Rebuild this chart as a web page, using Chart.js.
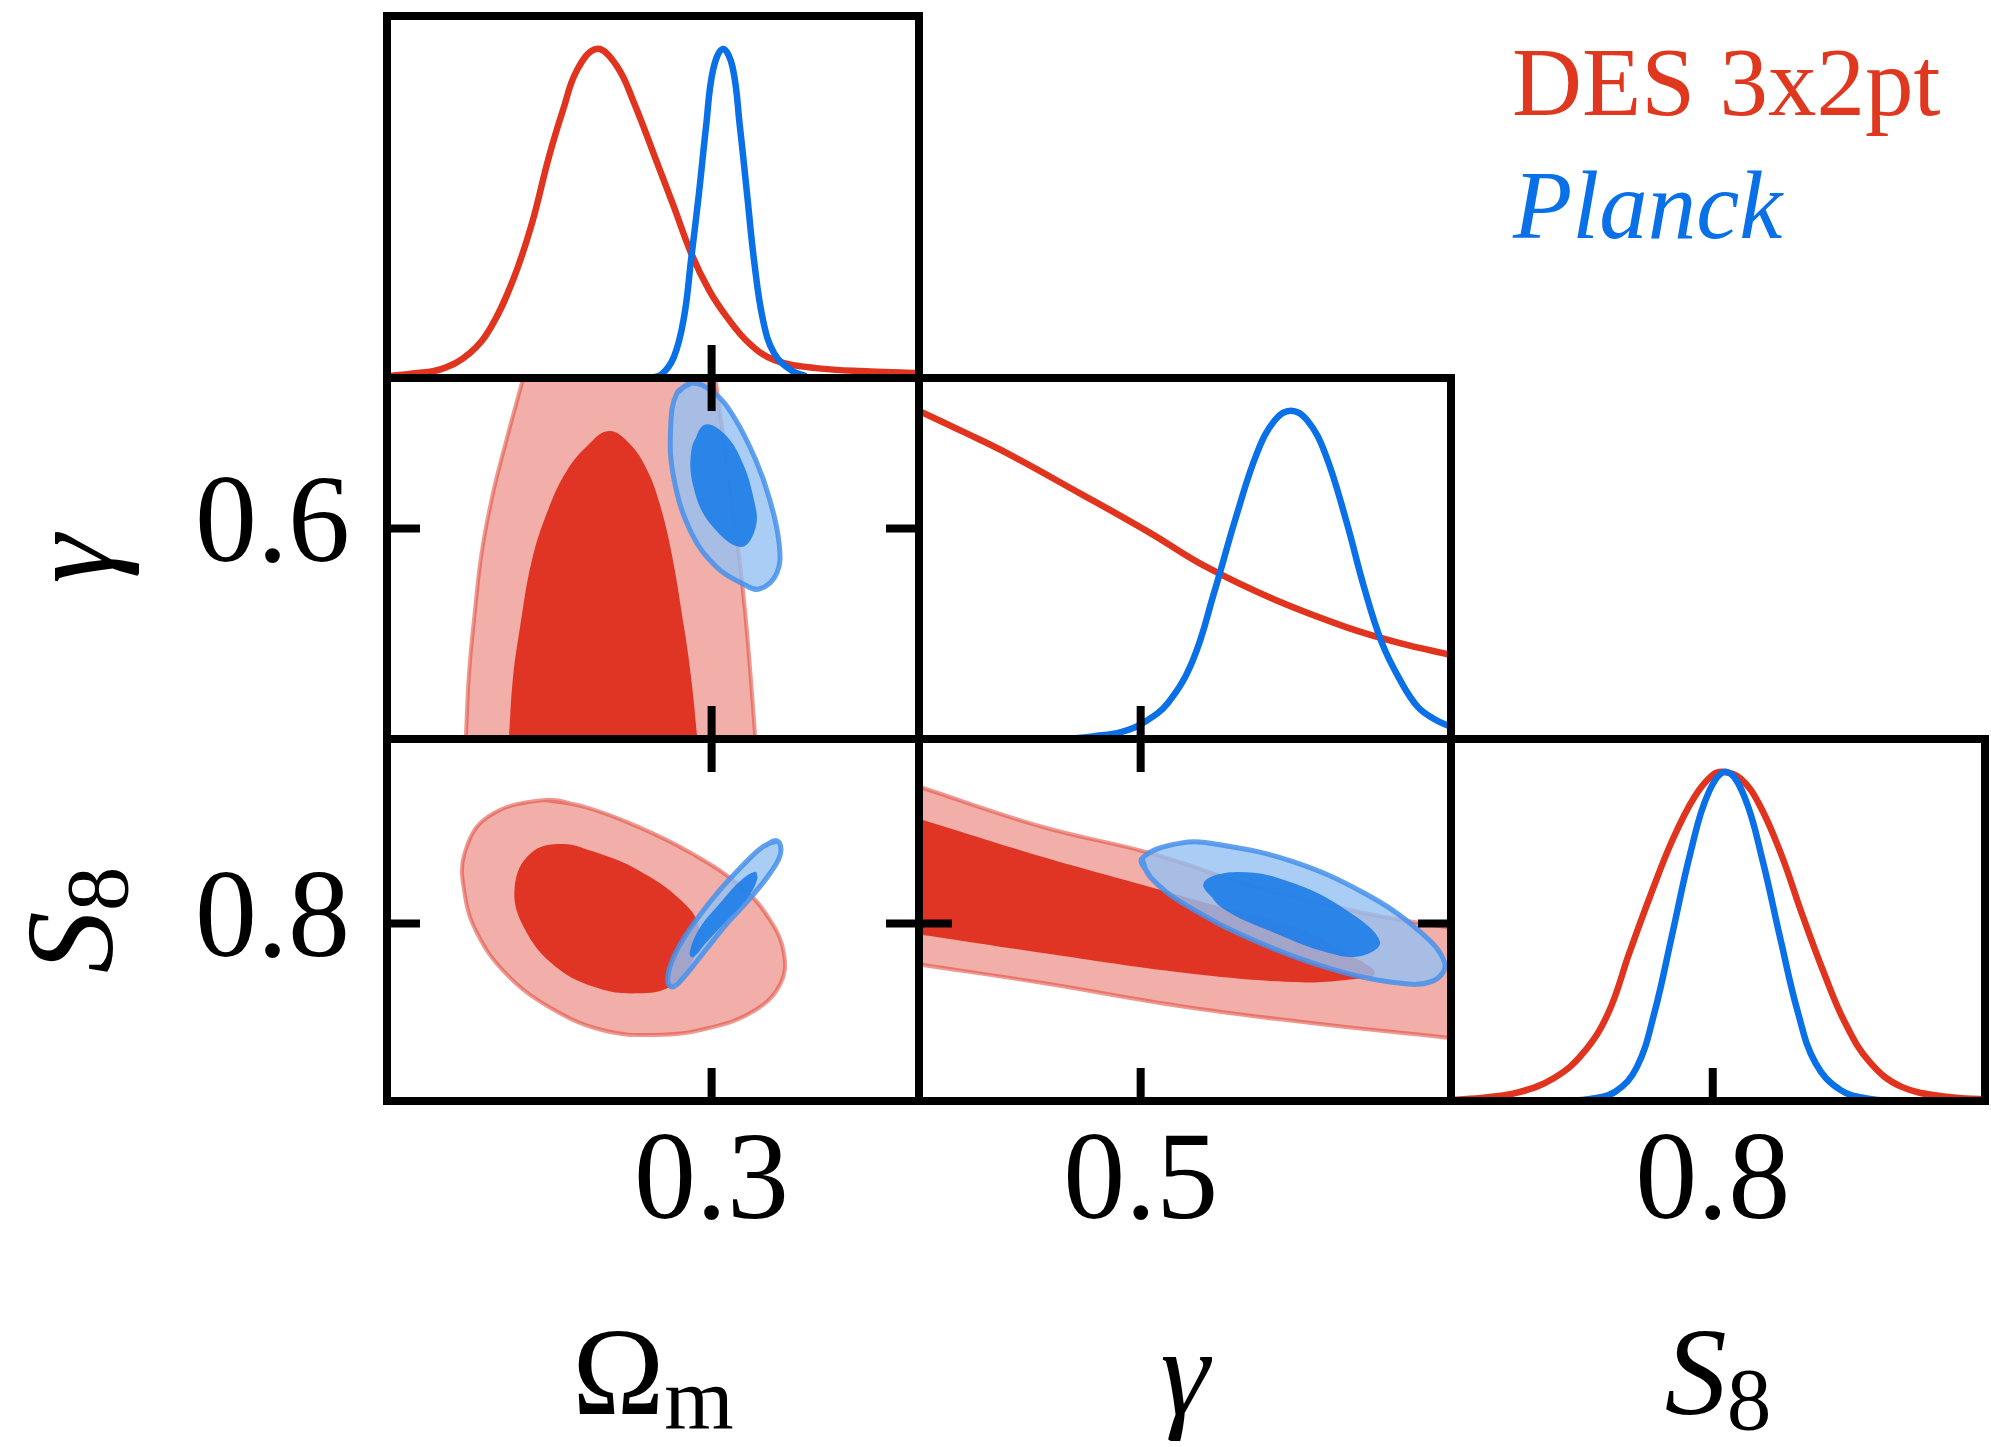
<!DOCTYPE html>
<html>
<head>
<meta charset="utf-8">
<title>Ωm, γ, S8</title>
<script src="https://cdn.jsdelivr.net/npm/chart.js@4.4.1/dist/chart.umd.min.js"></script>
<style>
  html, body { margin: 0; padding: 0; background: #fff; overflow: hidden; }
  body { width: 1991px; height: 1447px; position: relative; font-family: 'Liberation Serif', serif; }
  canvas { position: absolute; }
  .label { position: absolute; line-height: 1; white-space: nowrap; font-size: 124px; color: #000; text-align: center; }
  .it { font-style: italic; }
  .sub { font-size: 0.72em; font-style: normal; position: relative; top: 0.17em; }
  .rot { transform: rotate(-90deg); height: 124px; }
  .legend { position: absolute; line-height: 1; font-size: 97px; white-space: nowrap; }
</style>
</head>
<body>
<div class="label" style="left:387px; top:1311px; width:532px">Ω<span class="sub">m</span></div>
<div class="label it" style="left:919px; top:1311px; width:532px">γ</div>
<div class="label" style="left:1451px; top:1311px; width:534px"><span class="it">S</span><span class="sub">8</span></div>
<div class="label it rot" style="left:-110px; top:497px; width:361px">γ</div>
<div class="label rot" style="left:-110px; top:858px; width:362px"><span class="it">S</span><span class="sub">8</span></div>
<div class="legend" style="left:1512px; top:34px; color:#e0381f">DES 3x2pt</div>
<div class="legend" style="left:1513px; top:157px; color:#0a70e8; font-style:italic">Planck</div>
<script>
// axis ranges
const omRange = [0.12, 0.415];
const gammaRange = [0.25, 0.85];
const s8Range = [0.65, 0.956];
const pdfRange = [0, 1.1];

// tick values (marks and labels)
const omTicks = [0.3];
const gammaTicksX = [0.5];
const gammaTicksY = [0.6];
const s8Ticks = [0.8];

// 1D marginals, DES 3x2pt
const desOmX = [0.12, 0.1344, 0.150, 0.166, 0.1777, 0.1899, 0.1998, 0.2098, 0.2176, 0.2254, 0.2363, 0.2472, 0.257, 0.2692, 0.2791, 0.2886, 0.2986, 0.3085, 0.3207, 0.3346, 0.3579, 0.3878, 0.415];
const desOmP = [0.005, 0.014, 0.027, 0.076, 0.155, 0.298, 0.459, 0.672, 0.814, 0.936, 1.0, 0.95, 0.836, 0.662, 0.52, 0.38, 0.267, 0.185, 0.106, 0.055, 0.03, 0.02, 0.015];
const desGamX = [0.25, 0.3007, 0.3492, 0.4305, 0.5105, 0.5714, 0.6515, 0.7316, 0.7925, 0.85];
const desGamP = [1.0, 0.935, 0.871, 0.75, 0.628, 0.528, 0.424, 0.341, 0.292, 0.256];
const desS8X = [0.65, 0.67, 0.6885, 0.7091, 0.7258, 0.7401, 0.7522, 0.7648, 0.7769, 0.7895, 0.7998, 0.8067, 0.8159, 0.8262, 0.8389, 0.8509, 0.8635, 0.8756, 0.89, 0.9083, 0.9353, 0.956];
const desS8P = [0.003, 0.011, 0.026, 0.07, 0.146, 0.267, 0.45, 0.632, 0.793, 0.924, 0.99, 1.0, 0.98, 0.906, 0.754, 0.572, 0.392, 0.24, 0.118, 0.043, 0.012, 0.005];

// 1D marginals, Planck
const plOmX = [0.2653, 0.272, 0.2791, 0.2847, 0.2886, 0.293, 0.2969, 0.3008, 0.3063, 0.3116, 0.3157, 0.3196, 0.3235, 0.3285, 0.3346, 0.344, 0.3523];
const plOmP = [0.0, 0.01, 0.064, 0.185, 0.359, 0.562, 0.763, 0.936, 1.0, 0.945, 0.763, 0.562, 0.359, 0.176, 0.076, 0.024, 0.005];
const plGamX = [0.4203, 0.4462, 0.4778, 0.5026, 0.5308, 0.559, 0.5827, 0.6075, 0.6312, 0.6515, 0.6695, 0.6876, 0.7079, 0.7316, 0.7519, 0.7722, 0.7925, 0.8128, 0.833, 0.85];
const plGamP = [0.0, 0.008, 0.021, 0.049, 0.11, 0.241, 0.445, 0.676, 0.871, 0.972, 1.0, 0.972, 0.871, 0.667, 0.463, 0.292, 0.18, 0.097, 0.058, 0.037];
const plS8X = [0.715, 0.7298, 0.7441, 0.7565, 0.7665, 0.7769, 0.7872, 0.7975, 0.8079, 0.8182, 0.8285, 0.8389, 0.8489, 0.8589, 0.8733, 0.89, 0.905];
const plS8P = [0.0, 0.006, 0.028, 0.103, 0.267, 0.51, 0.754, 0.936, 1.0, 0.924, 0.732, 0.489, 0.267, 0.115, 0.033, 0.006, 0.0];

// 2D contours [x, y], 95% and 68%
const omGamDes95 = [[0.2045, 0.95], [0.1949, 0.843], [0.1865, 0.75], [0.1788, 0.659], [0.1725, 0.56], [0.1688, 0.464], [0.1655, 0.36], [0.1638, 0.257], [0.162, 0.15],
  [0.3268, 0.15], [0.3241, 0.257], [0.3215, 0.36], [0.3185, 0.464], [0.315, 0.56], [0.3107, 0.659], [0.3065, 0.75], [0.3024, 0.843], [0.2977, 0.95]];
const omGamDes68 = [[0.1853, 0.15], [0.1877, 0.2566], [0.1899, 0.353], [0.1938, 0.4361], [0.2004, 0.5475], [0.2093, 0.6306], [0.2193, 0.6938], [0.2315, 0.7386],
  [0.2431, 0.7619], [0.2547, 0.7403], [0.2642, 0.6971], [0.2714, 0.6389], [0.278, 0.5558], [0.2847, 0.4361], [0.2886, 0.353], [0.2919, 0.2566], [0.2951, 0.15]];
const omGamPl95 = [[0.2888, 0.8417], [0.3008, 0.827], [0.3124, 0.7852], [0.3245, 0.7137], [0.3323, 0.6472], [0.3374, 0.5758], [0.3362, 0.5259], [0.3264, 0.4993],
  [0.3165, 0.5093], [0.3027, 0.5359], [0.2888, 0.5924], [0.2789, 0.6855], [0.2773, 0.7686], [0.2808, 0.825]];
const omGamPl68 = [[0.2958, 0.7719], [0.3066, 0.7586], [0.3165, 0.7137], [0.3235, 0.6472], [0.3245, 0.6023], [0.3165, 0.5691], [0.3008, 0.6023], [0.2908, 0.6589], [0.2888, 0.7303]];

const omS8Des95 = [[0.2076, 0.9044], [0.176, 0.8903], [0.163, 0.8594], [0.163, 0.8256], [0.1699, 0.792], [0.1858, 0.7579], [0.2096, 0.7297], [0.2392, 0.71], [0.269, 0.7058],
  [0.2986, 0.7117], [0.3244, 0.7269], [0.3383, 0.7495], [0.3401, 0.7749], [0.3324, 0.803], [0.3165, 0.8311], [0.2888, 0.8594], [0.2591, 0.8819], [0.2292, 0.8988]];
const omS8Des68 = [[0.2175, 0.8672], [0.1997, 0.8594], [0.1908, 0.8311], [0.1957, 0.7973], [0.2135, 0.7635], [0.2373, 0.7453], [0.2591, 0.741], [0.2769, 0.7466],
  [0.2888, 0.7664], [0.2928, 0.7973], [0.2829, 0.8199], [0.2591, 0.8453], [0.2373, 0.8594]];
const omS8Pl95 = [[0.3363, 0.870], [0.3383, 0.8594], [0.3324, 0.8425], [0.3205, 0.8199], [0.3086, 0.8002], [0.2967, 0.7776], [0.2849, 0.7551], [0.2789, 0.7466],
  [0.2759, 0.7495], [0.2769, 0.7635], [0.2829, 0.7833], [0.2928, 0.8058], [0.3046, 0.8284], [0.3165, 0.8481], [0.3284, 0.865]];
const omS8Pl68 = [[0.3244, 0.8438], [0.3165, 0.8368], [0.3046, 0.8171], [0.2928, 0.7946], [0.2878, 0.7749], [0.2898, 0.7715], [0.2967, 0.7833], [0.3086, 0.803], [0.3205, 0.8227], [0.3254, 0.8383]];

const gamS8Des95 = [[0.2, 0.928], [0.2545, 0.9146], [0.3898, 0.8816], [0.5105, 0.8596], [0.6312, 0.8309], [0.7519, 0.8089], [0.8489, 0.7962], [0.9, 0.7895],
  [0.9, 0.6992], [0.8489, 0.7033], [0.7124, 0.7142], [0.5511, 0.7295], [0.3898, 0.7497], [0.2545, 0.765], [0.2, 0.7712]];
const gamS8Des68 = [[0.2, 0.9001], [0.2545, 0.8875], [0.3898, 0.8562], [0.5105, 0.8309], [0.5906, 0.814], [0.6718, 0.7971], [0.7316, 0.7751], [0.7643, 0.7582],
  [0.7316, 0.7523], [0.6718, 0.7506], [0.5511, 0.7582], [0.3898, 0.7751], [0.2545, 0.7903], [0.2, 0.7964]];
const gamS8Pl95 = [[0.5015, 0.855], [0.5448, 0.868], [0.5911, 0.8664], [0.6718, 0.8523], [0.7519, 0.8258], [0.8128, 0.7945], [0.8428, 0.7667], [0.830, 0.7515],
  [0.788, 0.75], [0.712, 0.7624], [0.6312, 0.7847], [0.5508, 0.8157], [0.5105, 0.8396]];
const gamS8Pl68 = [[0.571, 0.8343], [0.6109, 0.8436], [0.6718, 0.8343], [0.7316, 0.8115], [0.7699, 0.7847], [0.7481, 0.7726], [0.7124, 0.7751], [0.6515, 0.792], [0.5906, 0.814]];

const red = '#e1341f';
const blue = '#0a70e8';

const pad = 10, yAxisW = 230, xAxisH = 200, tickLen = 33, frameWidth = 8;
const tickFont = { family: 'Liberation Serif', size: 124 };

function curve(xs, ys, color, order) {
    return {
        data: xs.map((x, i) => ({ x: x, y: ys[i] })),
        borderColor: color,
        borderWidth: 6.5,
        pointRadius: 0,
        fill: false,
        tension: 0.4,
        order: order,
        clip: 0
    };
}

// closed, filled contour; the ring wraps one point on each end so the spline joins smoothly
function region(pts, fillColor, edgeColor, edgeWidth, order) {
    const ring = [pts[pts.length - 1]].concat(pts, [pts[0]]);
    return {
        data: ring.map(p => ({ x: p[0], y: p[1] })),
        backgroundColor: fillColor,
        borderColor: edgeColor,
        borderWidth: edgeWidth,
        pointRadius: 0,
        fill: 'shape',
        tension: 0.4,
        order: order,
        clip: 0
    };
}

function contours(des95, des68, pl95, pl68) {
    return [
        region(des95, '#f2aea8', 'rgba(224,70,55,0.55)', 4, 4),
        region(des68, '#e03525', 'rgba(0,0,0,0)', 1, 3),
        region(pl95, 'rgba(147,192,243,0.8)', 'rgba(70,145,235,0.85)', 5, 2),
        region(pl68, 'rgba(30,125,232,0.9)', 'rgba(0,0,0,0)', 1, 1)
    ];
}

// black box with inward ticks on the shared parameter values
function frame(xTicks, yTicks) {
    return {
        id: 'frame',
        afterDatasetsDraw(chart) {
            const ctx = chart.ctx, a = chart.chartArea;
            const sx = chart.scales.x, sy = chart.scales.y;
            ctx.save();
            ctx.strokeStyle = '#000';
            ctx.lineWidth = frameWidth;
            ctx.beginPath();
            xTicks.forEach(v => {
                const px = sx.getPixelForValue(v);
                ctx.moveTo(px, a.bottom); ctx.lineTo(px, a.bottom - tickLen);
                if (yTicks.length) { ctx.moveTo(px, a.top); ctx.lineTo(px, a.top + tickLen); }
            });
            yTicks.forEach(v => {
                const py = sy.getPixelForValue(v);
                ctx.moveTo(a.left, py); ctx.lineTo(a.left + tickLen, py);
                ctx.moveTo(a.right, py); ctx.lineTo(a.right - tickLen, py);
            });
            ctx.stroke();
            ctx.strokeRect(a.left, a.top, a.right - a.left, a.bottom - a.top);
            ctx.restore();
        }
    };
}

function axis(range, ticks, show, isX) {
    return {
        type: 'linear',
        min: range[0],
        max: range[1],
        display: show,
        position: isX ? 'bottom' : 'left',
        grid: { display: false, drawTicks: false },
        border: { display: false },
        ticks: { font: tickFont, color: '#000', padding: isX ? 10 : 37, maxRotation: 0, callback: v => v.toFixed(1) },
        afterBuildTicks: s => { s.ticks = ticks.map(v => ({ value: v })); },
        afterFit: s => {
            if (!show) return;
            if (isX) s.height = xAxisH; else s.width = yAxisW;
            s.paddingTop = 0; s.paddingBottom = 0; s.paddingLeft = 0; s.paddingRight = 0;
        }
    };
}

function panel(left, top, w, h, cfg) {
    const showX = !!cfg.showX, showY = !!cfg.showY;
    const yTicks = cfg.yTicks || [];
    const cw = w + 2 * pad + (showY ? yAxisW : 0);
    const ch = h + 2 * pad + (showX ? xAxisH : 0);
    const canvas = document.createElement('canvas');
    canvas.width = cw;
    canvas.height = ch;
    canvas.style.left = (left - pad - (showY ? yAxisW : 0)) + 'px';
    canvas.style.top = (top - pad) + 'px';
    canvas.style.width = cw + 'px';
    canvas.style.height = ch + 'px';
    document.body.appendChild(canvas);

    new Chart(canvas.getContext('2d'), {
        type: 'line',
        data: { datasets: cfg.datasets },
        options: {
            responsive: false,
            animation: false,
            devicePixelRatio: 1,
            events: [],
            layout: { padding: pad },
            elements: { line: { capBezierPoints: false } },
            scales: {
                x: axis(cfg.xRange, cfg.xTicks, showX, true),
                y: axis(cfg.yRange, yTicks, showY, false)
            },
            plugins: { legend: { display: false }, tooltip: { enabled: false } }
        },
        plugins: [frame(cfg.xTicks, yTicks)]
    });
}

// Omega_m marginal
panel(387, 16, 532, 362, {
    xRange: omRange, yRange: pdfRange, xTicks: omTicks,
    datasets: [curve(plOmX, plOmP, blue, 1), curve(desOmX, desOmP, red, 2)]
});

// gamma vs Omega_m
panel(387, 378, 532, 361, {
    xRange: omRange, yRange: gammaRange, xTicks: omTicks, yTicks: gammaTicksY, showY: true,
    datasets: contours(omGamDes95, omGamDes68, omGamPl95, omGamPl68)
});

// gamma marginal
panel(919, 378, 532, 361, {
    xRange: gammaRange, yRange: pdfRange, xTicks: gammaTicksX,
    datasets: [curve(plGamX, plGamP, blue, 1), curve(desGamX, desGamP, red, 2)]
});

// S8 vs Omega_m
panel(387, 739, 532, 362, {
    xRange: omRange, yRange: s8Range, xTicks: omTicks, yTicks: s8Ticks, showX: true, showY: true,
    datasets: contours(omS8Des95, omS8Des68, omS8Pl95, omS8Pl68)
});

// S8 vs gamma
panel(919, 739, 532, 362, {
    xRange: gammaRange, yRange: s8Range, xTicks: gammaTicksX, yTicks: s8Ticks, showX: true,
    datasets: contours(gamS8Des95, gamS8Des68, gamS8Pl95, gamS8Pl68)
});

// S8 marginal
panel(1451, 739, 534, 362, {
    xRange: s8Range, yRange: pdfRange, xTicks: s8Ticks, showX: true,
    datasets: [curve(plS8X, plS8P, blue, 1), curve(desS8X, desS8P, red, 2)]
});
</script>
</body>
</html>
